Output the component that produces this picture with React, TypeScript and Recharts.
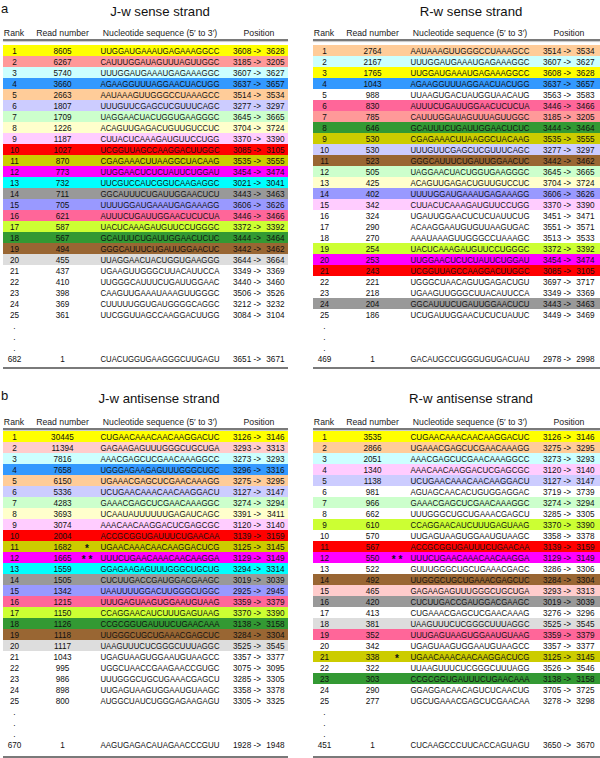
import React from "react";
import { BarChart, Bar, XAxis, YAxis } from "recharts";

const FONT = "'Liberation Sans', Arial, Helvetica, sans-serif";

const PALETTE: Record<string, string> = {
  yellow: "#ffff00",
  salmon: "#ff9999",
  ppink: "#ffcccc",
  lcyan: "#ccffff",
  blue: "#3399ff",
  peach: "#ffcc99",
  lavender: "#ccccff",
  lgreen: "#ccffcc",
  lyellow: "#ffffcc",
  lmagenta: "#ffccff",
  red: "#ff0000",
  olive: "#cccc00",
  magenta: "#ff00ff",
  cyan: "#00ffff",
  gray: "#999999",
  periwinkle: "#9999ff",
  hotpink: "#ff6699",
  lime: "#ccff33",
  green: "#339933",
  brown: "#996633",
  lgray: "#dddddd",
};

const topRanks = ["1", "2", "3", "4", "5", "6", "7", "8", "9", "10", "11", "12", "13", "14", "15", "16", "17", "18", "19", "20", "21", "22", "23", "24", "25"];

// J-w sense strand
const jwSenseReads = ["8605", "6267", "5740", "3660", "2663", "1807", "1709", "1226", "1187", "1027", "870", "773", "732", "711", "705", "621", "587", "567", "494", "455", "437", "410", "398", "369", "361", "1"];
const jwSenseSeqs = ["UUGGAUGAAAUGAGAAAGGCC", "CAUUUGGAUAGUUUAGUUGGC", "UUUGGAUGAAAUGAGAAAGGC", "AGAAGGUUUAGGAACUACUGG", "AAUAAAGUUGGGCCUAAAGCC", "UUUGUUCGAGCUCGUUUCAGC", "UAGGAACUACUGGUGAAGGGC", "ACAGUUGAGACUGUUGUCCUC", "CUUACUCAAAGAUGUUCCUGG", "UCGGUUAGCCAAGGACUUGGC", "CGAGAAACUUAAGGCUACAAG", "UUGGAACUCUCUAUUCUGGAU", "UUCGUCCAUCGGUCAAGAGGC", "GGCAUUUCUGAUUGGAACUCU", "UUUUGGAUGAAAUGAGAAAGG", "AUUUCUGAUUGGAACUCUCUA", "UACUCAAAGAUGUUCCUGGGC", "GCAUUUCUGAUUGGAACUCUC", "GGGCAUUUCUGAUUGGAACUC", "UUAGGAACUACUGGUGAAGGG", "UGAAGUUGGGCUUACAUUCCA", "UUGGGCAUUUCUGAUUGGAAC", "CAAGUUGAAAUAAAGUUGGGC", "CUUUUUGGUGAUGGGGCAGGC", "UUCGGUUAGCCAAGGACUUGG", "CUACUGGUGAAGGGCUUGAGU"];
const jwSenseStart = ["3608", "3185", "3607", "3637", "3514", "3277", "3645", "3704", "3370", "3085", "3535", "3454", "3021", "3443", "3606", "3446", "3372", "3444", "3442", "3644", "3349", "3440", "3506", "3212", "3084", "3651"];
const jwSenseEnd = ["3628", "3205", "3627", "3657", "3534", "3297", "3665", "3724", "3390", "3105", "3555", "3474", "3041", "3463", "3626", "3466", "3392", "3464", "3462", "3664", "3369", "3460", "3526", "3232", "3104", "3671"];
const jwSenseColors = ["yellow", "salmon", "lcyan", "blue", "peach", "lavender", "lgreen", "lyellow", "lmagenta", "red", "olive", "magenta", "cyan", "gray", "periwinkle", "hotpink", "lime", "green", "brown", "lgray", "", "", "", "", ""];

// R-w sense strand
const rwSenseReads = ["2764", "2167", "1765", "1043", "988", "830", "785", "646", "530", "530", "523", "505", "425", "402", "342", "324", "290", "270", "254", "253", "243", "221", "218", "204", "186", "1"];
const rwSenseSeqs = ["AAUAAAGUUGGGCCUAAAGCC", "UUUGGAUGAAAUGAGAAAGGC", "UUGGAUGAAAUGAGAAAGGCC", "AGAAGGUUUAGGAACUACUGG", "UUAAGUGACUAUGGUAACAUG", "AUUUCUGAUUGGAACUCUCUA", "CAUUUGGAUAGUUUAGUUGGC", "GCAUUUCUGAUUGGAACUCUC", "CGAGAAACUUAAGGCUACAAG", "UUUGUUCGAGCUCGUUUCAGC", "GGGCAUUUCUGAUUGGAACUC", "UAGGAACUACUGGUGAAGGGC", "ACAGUUGAGACUGUUGUCCUC", "UUUUGGAUGAAAUGAGAAAGG", "CUUACUCAAAGAUGUUCCUGG", "UGAUUGGAACUCUCUAUUCUG", "ACAAGGAAUGUGUUAAGUGAC", "AAAUAAAGUUGGGCCUAAAGC", "UACUCAAAGAUGUUCCUGGGC", "UUGGAACUCUCUAUUCUGGAU", "UCGGUUAGCCAAGGACUUGGC", "UGGGCUAACAGUUGAGACUGU", "UGAAGUUGGGCUUACAUUCCA", "GGCAUUUCUGAUUGGAACUCU", "UCUGAUUGGAACUCUCUAUUC", "GACAUGCCUGGGUGUGACUAU"];
const rwSenseStart = ["3514", "3607", "3608", "3637", "3563", "3446", "3185", "3444", "3535", "3277", "3442", "3645", "3704", "3606", "3370", "3451", "3551", "3513", "3372", "3454", "3085", "3697", "3349", "3443", "3449", "2978"];
const rwSenseEnd = ["3534", "3627", "3628", "3657", "3583", "3466", "3205", "3464", "3555", "3297", "3462", "3665", "3724", "3626", "3390", "3471", "3571", "3533", "3392", "3474", "3105", "3717", "3369", "3463", "3469", "2998"];
const rwSenseColors = ["peach", "lcyan", "yellow", "blue", "", "hotpink", "salmon", "green", "olive", "lavender", "brown", "lgreen", "lyellow", "periwinkle", "lmagenta", "", "", "", "lime", "magenta", "red", "", "", "gray", ""];

// J-w antisense strand
const jwAntiReads = ["30445", "11394", "7816", "7658", "6150", "5336", "4283", "3693", "3074", "2004", "1682", "1665", "1559", "1505", "1342", "1215", "1150", "1126", "1118", "1117", "1043", "995", "986", "898", "800", "1"];
const jwAntiSeqs = ["CUGAACAAACAACAAGGACUC", "GAGAAGAGUUUGGGCUGCUGA", "AAACGAGCUCGAACAAAGGCC", "UGGGAGAAGAGUUUGGGCUGC", "UGAAACGAGCUCGAACAAAGG", "UCUGAACAAACAACAAGGACU", "GAAACGAGCUCGAACAAAGGC", "UCAAUAUUUUUUGAGAUCAGC", "AAACAACAAGGACUCGAGCGC", "ACCGCGGUGAUUUCUGAACAA", "UGAACAAACAACAAGGACUCG", "UUUCUGAACAAACAACAAGGA", "GGAGAAGAGUUUGGGCUGCUG", "CUCUUGACCGAUGGACGAAGC", "UAAUUUUGGACUUGGGCUGGC", "UUUGAGUAAGUGGAAUGUAAG", "CCAGGAACAUCUUUGAGUAAG", "CCGCGGUGAUUUCUGAACAAA", "UUGGGCUGCUGAAACGAGCUC", "UAAGUUUCUCGGGCUUUAGGC", "UGAGUAAGUGGAAUGUAAGCC", "UGGCUAACCGAAGAACCGUGC", "UUUGGGCUGCUGAAACGAGCU", "UUGAGUAAGUGGAAUGUAAGC", "AUGGCUAUCUGGGAGAAGAGU", "AAGUGAGACAUAGAACCCGUU"];
const jwAntiStart = ["3126", "3293", "3273", "3296", "3275", "3127", "3274", "3391", "3120", "3139", "3125", "3129", "3294", "3019", "2925", "3359", "3370", "3138", "3284", "3525", "3357", "3075", "3285", "3358", "3305", "1928"];
const jwAntiEnd = ["3146", "3313", "3293", "3316", "3295", "3147", "3294", "3411", "3140", "3159", "3145", "3149", "3314", "3039", "2945", "3379", "3390", "3158", "3304", "3545", "3377", "3095", "3305", "3378", "3325", "1948"];
const jwAntiColors = ["yellow", "ppink", "lcyan", "blue", "peach", "lavender", "lgreen", "lyellow", "lmagenta", "red", "olive", "magenta", "cyan", "gray", "periwinkle", "hotpink", "lime", "green", "brown", "lgray", "", "", "", "", ""];
const jwAntiMarks = ["", "", "", "", "", "", "", "", "", "", "*", "* *", "", "", "", "", "", "", "", "", "", "", "", "", ""];

// R-w antisense strand
const rwAntiReads = ["3535", "2866", "2051", "1340", "1138", "981", "966", "662", "610", "570", "567", "550", "522", "492", "465", "420", "413", "381", "352", "342", "338", "322", "303", "290", "277", "1"];
const rwAntiSeqs = ["CUGAACAAACAACAAGGACUC", "UGAAACGAGCUCGAACAAAGG", "AAACGAGCUCGAACAAAGGCC", "AAACAACAAGGACUCGAGCGC", "UCUGAACAAACAACAAGGACU", "AGUAGCAACACUGUGGAGGAC", "GAAACGAGCUCGAACAAAGGC", "UUUGGGCUGCUGAAACGAGCU", "CCAGGAACAUCUUUGAGUAAG", "UUGAGUAAGUGGAAUGUAAGC", "ACCGCGGUGAUUUCUGAACAA", "UUUCUGAACAAACAACAAGGA", "GUUUGGGCUGCUGAAACGAGC", "UUGGGCUGCUGAAACGAGCUC", "GAGAAGAGUUUGGGCUGCUGA", "CUCUUGACCGAUGGACGAAGC", "CUGAAACGAGCUCGAACAAAG", "UAAGUUUCUCGGGCUUUAGGC", "UUUGAGUAAGUGGAAUGUAAG", "UGAGUAAGUGGAAUGUAAGCC", "UGAACAAACAACAAGGACUCG", "UUAAGUUUCUCGGGCUUUAGG", "CCGCGGUGAUUUCUGAACAAA", "GGAGGACAACAGUCUCAACUG", "UGCUGAAACGAGCUCGAACAA", "CUCAAGCCCUUCACCAGUAGU"];
const rwAntiStart = ["3126", "3275", "3273", "3120", "3127", "3719", "3274", "3285", "3370", "3358", "3139", "3129", "3286", "3284", "3293", "3019", "3276", "3525", "3359", "3357", "3125", "3526", "3138", "3705", "3278", "3650"];
const rwAntiEnd = ["3146", "3295", "3293", "3140", "3147", "3739", "3294", "3305", "3390", "3378", "3159", "3149", "3306", "3304", "3313", "3039", "3296", "3545", "3379", "3377", "3145", "3546", "3158", "3725", "3298", "3670"];
const rwAntiColors = ["yellow", "peach", "lcyan", "lmagenta", "lavender", "", "lgreen", "", "lime", "", "red", "magenta", "", "brown", "ppink", "gray", "", "lgray", "hotpink", "", "olive", "", "green", "", ""];
const rwAntiMarks = ["", "", "", "", "", "", "", "", "", "", "", "* *", "", "", "", "", "", "", "", "", "*", "", "", "", ""];

const ROW_H = 11;

function buildRows(reads: string[], seqs: string[], starts: string[], ends: string[], colors: string[], marks: string[] | null, lastRank: string) {
  const rows: any[] = [];
  topRanks.forEach((r, i) => {
    rows.push({
      id: "r" + r,
      rank: r,
      reads: reads[i],
      seq: seqs[i],
      start: starts[i],
      end: ends[i],
      mark: marks ? marks[i] : "",
      fill: colors[i] ? PALETTE[colors[i]] : "",
      band: 1,
    });
  });
  ["d1", "d2", "d3"].forEach((d) => rows.push({ id: d, rank: ".", band: 1, fill: "" }));
  const k = topRanks.length;
  rows.push({ id: "last", rank: lastRank, reads: reads[k], seq: seqs[k], start: starts[k], end: ends[k], mark: "", fill: "", band: 1 });
  return rows;
}

const RowShape = (props: any) => {
  const { x, y, width, height, payload } = props;
  const ty = y + height / 2 + 3;
  return (
    <g fontFamily={FONT} fontSize={8.2} fill="#111">
      {payload.fill ? <rect x={x} y={y} width={width} height={height} fill={payload.fill} /> : null}
      <text x={x + 11.5} y={ty} textAnchor="middle" fill="#111">{payload.rank}</text>
      {payload.reads ? <text x={x + 59.5} y={ty} textAnchor="middle" fill="#111">{payload.reads}</text> : null}
      {payload.mark ? <text x={x + 84} y={ty + 2.5} textAnchor="middle" fontSize={10} fontWeight="bold" fill="#111">{payload.mark}</text> : null}
      {payload.seq ? (
        <text x={x + 97.5} y={ty} textLength={119} lengthAdjust="spacingAndGlyphs" fill="#111">
          {payload.seq}
        </text>
      ) : null}
      {payload.start ? <text x={x + 230} y={ty} fill="#111">{payload.start + " ->"}</text> : null}
      {payload.end ? <text x={x + 281.5} y={ty} textAnchor="end" fill="#111">{payload.end}</text> : null}
    </g>
  );
};

const abs = (left: number, top: number, extra: any = {}) => ({
  position: "absolute" as const,
  left,
  top,
  transform: "translate(-50%, -50%)",
  whiteSpace: "nowrap" as const,
  ...extra,
});

type TableProps = {
  label?: string;
  title: string;
  titleX: number;
  titleY: number;
  headerY: number;
  lineY: number;
  rowsTop: number;
  padBottom: number;
  x0: number;
  rowWidth: number;
  rows: any[];
};

const StrandTable = (p: TableProps) => {
  const axisH = 4;
  const chartH = p.rows.length * ROW_H + p.padBottom + axisH;
  const hs = { fontSize: 8.7, color: "#222" };
  return (
    <>
      {p.label ? <div style={{ position: "absolute", left: 1, top: p.titleY - 10, fontSize: 13 }}>{p.label}</div> : null}
      <div style={abs(p.titleX, p.titleY, { fontSize: 13.2 })}>{p.title}</div>
      <div style={abs(p.x0 + 11, p.headerY, hs)}>Rank</div>
      <div style={abs(p.x0 + 59.5, p.headerY, hs)}>Read number</div>
      <div style={abs(p.x0 + 157, p.headerY, hs)}>Nucleotide sequence (5′ to 3′)</div>
      <div style={abs(p.x0 + 256, p.headerY, hs)}>Position</div>
      <div
        style={{
          position: "absolute",
          left: p.x0,
          top: p.lineY - 1,
          width: p.rowWidth,
          height: 0,
          borderTop: "2px solid #7a7a7a",
          boxShadow: "0 1px 1px #c8c8c8",
        }}
      />
      <div style={{ position: "absolute", left: p.x0, top: p.rowsTop }}>
        <BarChart
          layout="vertical"
          width={p.rowWidth}
          height={chartH}
          data={p.rows}
          margin={{ top: 0, right: 0, bottom: 0, left: 0 }}
          barCategoryGap={0}
          barGap={0}
        >
          <XAxis
            type="number"
            domain={[0, 1]}
            tick={false}
            tickLine={false}
            height={axisH}
            axisLine={{ stroke: "#7a7a7a", strokeWidth: 2 }}
          />
          <YAxis type="category" dataKey="id" hide padding={{ top: 0, bottom: p.padBottom }} />
          <Bar dataKey="band" isAnimationActive={false} shape={RowShape} />
        </BarChart>
      </div>
    </>
  );
};

export default function App() {
  const jwSense = buildRows(jwSenseReads, jwSenseSeqs, jwSenseStart, jwSenseEnd, jwSenseColors, null, "682");
  const rwSense = buildRows(rwSenseReads, rwSenseSeqs, rwSenseStart, rwSenseEnd, rwSenseColors, null, "469");
  const jwAnti = buildRows(jwAntiReads, jwAntiSeqs, jwAntiStart, jwAntiEnd, jwAntiColors, jwAntiMarks, "670");
  const rwAnti = buildRows(rwAntiReads, rwAntiSeqs, rwAntiStart, rwAntiEnd, rwAntiColors, rwAntiMarks, "451");
  return (
    <div
      style={{
        position: "absolute",
        left: 0,
        top: 0,
        width: 600,
        height: 758,
        overflow: "hidden",
        background: "#fff",
        fontFamily: FONT,
        color: "#111",
      }}
    >
      <StrandTable label="a" title="J-w sense strand" titleX={160} titleY={11} headerY={32.5} lineY={40} rowsTop={45} padBottom={4} x0={3} rowWidth={285} rows={jwSense} />
      <StrandTable title="R-w sense strand" titleX={471} titleY={11} headerY={32.5} lineY={40} rowsTop={45} padBottom={4} x0={313} rowWidth={287} rows={rwSense} />
      <StrandTable label="b" title="J-w antisense strand" titleX={159} titleY={398} headerY={422} lineY={429} rowsTop={431} padBottom={7} x0={3} rowWidth={285} rows={jwAnti} />
      <StrandTable title="R-w antisense strand" titleX={471} titleY={398} headerY={422} lineY={429} rowsTop={431} padBottom={7} x0={313} rowWidth={287} rows={rwAnti} />
    </div>
  );
}
